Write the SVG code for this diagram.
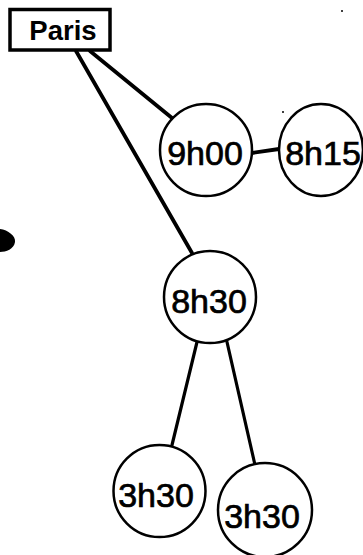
<svg xmlns="http://www.w3.org/2000/svg" width="363" height="555" viewBox="0 0 363 555">
<style>
.node{fill:#fff;stroke:#000;stroke-width:2.5}
.box{fill:#fff;stroke:#000;stroke-width:3.5}
.lbl{font-family:"Liberation Sans",Arial,sans-serif;font-size:34px;fill:#000;stroke:#000;stroke-width:0.7;text-anchor:middle}
.title{font-family:"Liberation Sans",Arial,sans-serif;font-size:27.5px;font-weight:bold;fill:#000;text-anchor:middle}
.edge{stroke:#000;stroke-width:3.8;stroke-linecap:round;fill:none}
.edge2{stroke:#000;stroke-width:3.2;stroke-linecap:round;fill:none}
</style>
<rect width="363" height="555" fill="#fff"/>
<g id="connectors">
<line class="edge" x1="90" y1="51" x2="172" y2="118"/>
<line class="edge" x1="76" y1="51" x2="192" y2="253"/>
<line class="edge" x1="252" y1="153" x2="279" y2="149"/>
<line class="edge2" x1="197" y1="342" x2="172" y2="445"/>
<line class="edge2" x1="227" y1="342" x2="255" y2="465"/>
</g>
<g id="paris">
<rect class="box" x="10" y="9.5" width="100" height="40.5"/>
<text class="title" x="63" y="40">Paris</text>
</g>
<g id="n9h00">
<circle class="node" cx="206" cy="150" r="46"/>
<text class="lbl" x="205" y="165">9h00</text>
</g>
<g id="n8h15">
<ellipse class="node" cx="321" cy="150" rx="42" ry="46"/>
<text class="lbl" x="323" y="165">8h15</text>
</g>
<g id="n8h30">
<circle class="node" cx="210" cy="297" r="46"/>
<text class="lbl" x="209" y="313">8h30</text>
</g>
<g id="n3h30a">
<circle class="node" cx="159.5" cy="491" r="46"/>
<text class="lbl" x="156" y="507">3h30</text>
</g>
<g id="n3h30b">
<circle class="node" cx="265" cy="510" r="47"/>
<text class="lbl" x="262" y="528">3h30</text>
</g>
<path d="M0,229 C8,230 16,236 15,242 C14,249 6,252 0,252 Z" fill="#000"/>
<circle cx="342" cy="11" r="1" fill="#000"/>
<circle cx="283" cy="112" r="1" fill="#000"/>
</svg>
